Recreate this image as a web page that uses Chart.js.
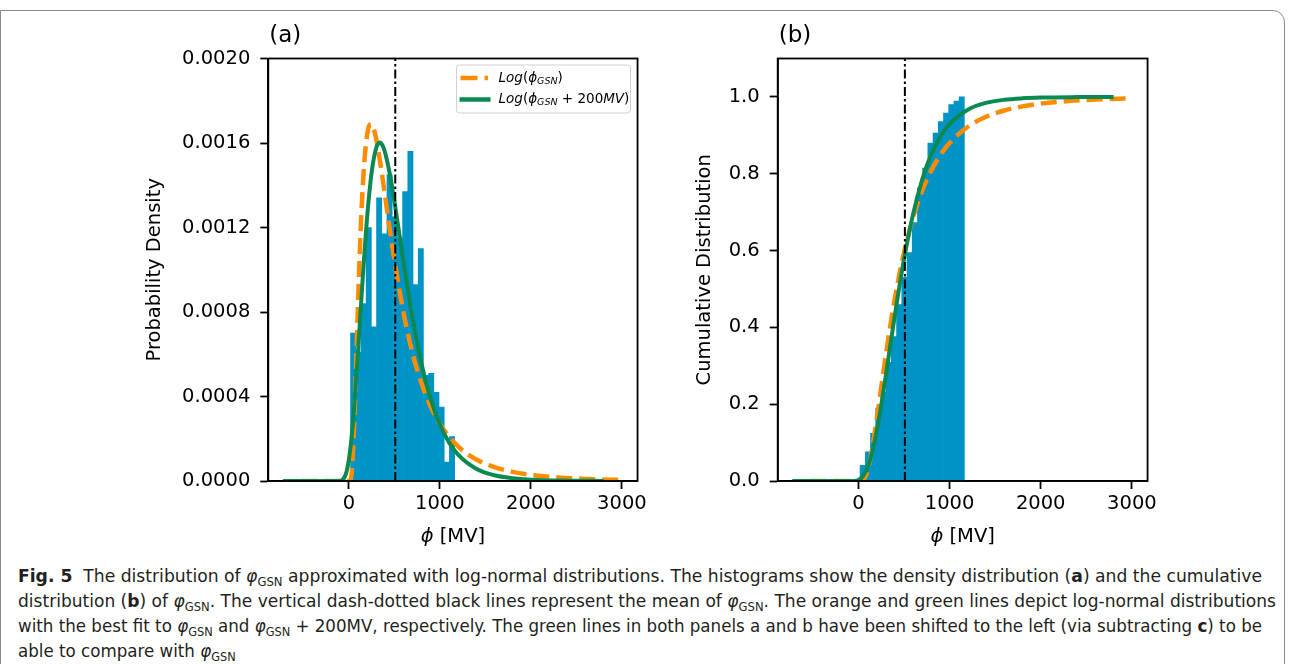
<!DOCTYPE html>
<html><head><meta charset="utf-8">
<script src="https://cdn.jsdelivr.net/npm/chart.js@4.4.1/dist/chart.umd.min.js"></script>
<style>
html,body{margin:0;padding:0;background:#fff;width:1294px;height:664px;overflow:hidden;position:relative;}
#frame{position:absolute;left:0;top:10px;width:1285px;height:700px;border:1.5px solid #8a8a8a;border-top-right-radius:12px;box-sizing:border-box;}
.cv{position:absolute;top:0;height:560px;}
#wa{left:140px;width:510px;}
#wb{left:690px;width:470px;}
#cap{position:absolute;left:18px;top:563px;width:1270px;height:100px;font-family:"Liberation Sans Narrow","DejaVu Sans Condensed","Roboto Condensed","Liberation Sans",sans-serif;font-size:18px;color:#231f20;}
.ln{position:absolute;left:0;white-space:nowrap;transform-origin:0 50%;line-height:26px;}
sub{font-size:68%;vertical-align:-0.32em;line-height:0;}
</style></head><body>
<div id="frame"></div>
<div class="cv" id="wa"><canvas id="ca"></canvas></div>
<div class="cv" id="wb"><canvas id="cb"></canvas></div>
<div id="cap">
<div class="ln" data-w="1244" style="top:0px"><b>Fig. 5</b>&nbsp; The distribution of <i>φ</i><sub>GSN</sub> approximated with log-normal distributions. The histograms show the density distribution (<b>a</b>) and the cumulative</div>
<div class="ln" data-w="1258" style="top:25px">distribution (<b>b</b>) of <i>φ</i><sub>GSN</sub>. The vertical dash-dotted black lines represent the mean of <i>φ</i><sub>GSN</sub>. The orange and green lines depict log-normal distributions</div>
<div class="ln" data-w="1244" style="top:50px">with the best fit to <i>φ</i><sub>GSN</sub> and <i>φ</i><sub>GSN</sub> + 200MV, respectively. The green lines in both panels a and b have been shifted to the left (via subtracting <b>c</b>) to be</div>
<div class="ln" style="top:75px">able to compare with <i>φ</i><sub>GSN</sub></div>
</div>
<script>
// ---------------- data ----------------
const binCenters = [47.0, 104.2, 161.4, 218.6, 275.8, 333.0, 390.2, 447.4, 504.6, 561.8, 619.0, 676.2, 733.4, 790.6, 847.8, 905.0, 962.2, 1019.4, 1076.6, 1133.8];
const densityValues = [0.00070, 0.00061, 0.00084, 0.00120, 0.00073, 0.00134, 0.00117, 0.00145, 0.00125, 0.00115, 0.00137, 0.00156, 0.00093, 0.00110, 0.00050, 0.00051, 0.00042, 0.00035, 0.00009, 0.00021];
const cumulativeValues = [0.041, 0.076, 0.124, 0.190, 0.232, 0.309, 0.376, 0.459, 0.530, 0.595, 0.673, 0.763, 0.815, 0.880, 0.906, 0.936, 0.958, 0.980, 0.989, 1.000];

const orangePdfX = [-525, 0, 20, 40, 60, 80, 100, 125, 150, 175, 200, 225, 250, 275, 300, 350, 400, 450, 500, 600, 700, 800, 900, 1000, 1200, 1400, 1600, 1800, 2000, 2300, 2600, 2990];
const orangePdf = [0, 0, 0.000006, 0.000089, 0.000288, 0.000554, 0.000831, 0.001136, 0.001373, 0.001537, 0.001636, 0.001683, 0.001689, 0.001666, 0.001621, 0.001493, 0.001343, 0.001191, 0.001047, 0.000798, 0.000605, 0.000460, 0.000351, 0.000270, 0.000164, 0.000102, 0.000066, 0.000043, 0.000029, 0.000017, 0.000010, 0.000005];

const greenPdfX = [-725, -150, -100, -50, -25, 0, 25, 50, 100, 150, 200, 250, 300, 340, 375, 400, 450, 500, 550, 600, 700, 800, 900, 1000, 1100, 1200, 1400, 1600, 1800, 2000, 2400, 2800];
const greenPdf = [0, 0, 0.0000005, 0.000016, 0.000045, 0.000100, 0.000186, 0.000303, 0.000607, 0.000944, 0.001244, 0.001459, 0.001575, 0.001602, 0.001584, 0.001552, 0.001454, 0.001326, 0.001183, 0.001038, 0.000770, 0.000552, 0.000387, 0.000267, 0.000183, 0.000125, 0.000058, 0.000027, 0.000013, 0.000006, 0.0000016, 0.0000004];

const orangeCdfX = [-525, 0, 25, 50, 75, 100, 125, 150, 175, 200, 250, 300, 350, 400, 450, 500, 600, 700, 800, 900, 1000, 1200, 1400, 1600, 1800, 2000, 2300, 2600, 2990];
const orangeCdf = [0, 0, 0.00007, 0.0021, 0.0101, 0.0266, 0.0513, 0.0828, 0.1193, 0.1591, 0.2429, 0.3260, 0.4040, 0.4750, 0.5383, 0.5943, 0.6859, 0.7557, 0.8086, 0.8489, 0.8798, 0.9222, 0.9482, 0.9647, 0.9754, 0.9825, 0.9892, 0.9931, 0.9960];

const greenCdfX = [-725, -150, -100, -50, 0, 50, 100, 150, 200, 250, 300, 350, 400, 450, 500, 600, 700, 800, 900, 1000, 1200, 1400, 1600, 1800, 2000, 2400, 2800];
const greenCdf = [0, 0, 0.000005, 0.00027, 0.00275, 0.0123, 0.0348, 0.0736, 0.1286, 0.1965, 0.2728, 0.3525, 0.4315, 0.5069, 0.5765, 0.6947, 0.7848, 0.8504, 0.8969, 0.9292, 0.9668, 0.9843, 0.9925, 0.9963, 0.9982, 0.9995, 0.9999];

const meanPhi = 510;
const xTicks = [0, 1000, 2000, 3000];
const yTicksA = [0, 0.0004, 0.0008, 0.0012, 0.0016, 0.0020];
const yTicksB = [0, 0.2, 0.4, 0.6, 0.8, 1.0];

// ---------------- styling ----------------
const BLUE = '#0093c6', ORANGE = '#ff8c00', GREEN = '#0a8a50';
const FONT = 'DejaVu Sans';
const TICK_SIZE = 19.5;

function pts(xs, ys){ return xs.map((x,i)=>({x:x, y:ys[i]})); }

function drawRich(ctx, x, y, segs, align){
  let w = 0;
  segs.forEach(s=>{ ctx.font = s.f; w += ctx.measureText(s.t).width; });
  let cx = align === 'center' ? x - w/2 : x;
  ctx.textBaseline = 'middle'; ctx.textAlign = 'left';
  segs.forEach(s=>{ ctx.font = s.f; ctx.fillText(s.t, cx, y + (s.dy||0)); cx += ctx.measureText(s.t).width; });
}

function makePanel(canvasId, opts){
  const framePlugin = {
    id:'frame'+canvasId,
    afterDatasetsDraw(chart){
      const {ctx, chartArea:a} = chart;
      ctx.save();
      ctx.strokeStyle = '#000'; ctx.lineWidth = 1.8;
      ctx.strokeRect(a.left, a.top, a.right-a.left, a.bottom-a.top);
      ctx.restore();
    },
    afterDraw(chart){
      const {ctx, chartArea:a} = chart;
      ctx.save();
      ctx.fillStyle = '#000';
      ctx.font = '23px ' + FONT; ctx.textBaseline = 'middle'; ctx.textAlign = 'left';
      ctx.fillText(opts.panel, a.left + 1, 36);
      drawRich(ctx, (a.left+a.right)/2, 537, [
        {t:'ϕ', f:'italic '+TICK_SIZE+'px '+FONT},
        {t:' [MV]', f:TICK_SIZE+'px '+FONT}
      ], 'center');
      if (opts.legend) {
        const bw = 174, bh = 48;
        const bx = a.right - 7 - bw, by = a.top + 6.5;
        ctx.beginPath();
        if (ctx.roundRect) ctx.roundRect(bx, by, bw, bh, 3); else ctx.rect(bx, by, bw, bh);
        ctx.fillStyle = 'rgba(255,255,255,0.85)'; ctx.fill();
        ctx.strokeStyle = '#d0d0d0'; ctx.lineWidth = 1; ctx.stroke();
        const it = 'italic 13.5px '+FONT, rm = '13.5px '+FONT, sub = 'italic 9.5px '+FONT;
        // orange entry
        ctx.save();
        ctx.strokeStyle = ORANGE; ctx.lineWidth = 4.5; ctx.setLineDash([17,7]);
        ctx.beginPath(); ctx.moveTo(bx+4, by+13); ctx.lineTo(bx+31.5, by+13); ctx.stroke();
        ctx.restore();
        ctx.fillStyle = '#000';
        drawRich(ctx, bx+42, by+13, [
          {t:'Log', f:it},{t:'(', f:rm},{t:'ϕ', f:it},{t:'GSN', f:sub, dy:3.5},{t:')', f:rm}
        ]);
        // green entry
        ctx.save();
        ctx.strokeStyle = GREEN; ctx.lineWidth = 4.5;
        ctx.beginPath(); ctx.moveTo(bx+3, by+34.5); ctx.lineTo(bx+34, by+34.5); ctx.stroke();
        ctx.restore();
        ctx.fillStyle = '#000';
        drawRich(ctx, bx+42, by+34.5, [
          {t:'Log', f:it},{t:'(', f:rm},{t:'ϕ', f:it},{t:'GSN', f:sub, dy:3.5},{t:' + 200', f:rm},{t:'MV', f:it},{t:')', f:rm}
        ]);
      }
      ctx.restore();
    }
  };

  return new Chart(document.getElementById(canvasId), {
    type:'line',
    data:{ datasets:[
      { type:'line', data: pts([meanPhi, meanPhi], [0, opts.yMax]), borderColor:'#000', borderWidth:2,
        borderDash:[9,3,2.5,3], pointRadius:0, order:0 },
      { type:'line', data: opts.green, borderColor:GREEN, borderWidth:4, pointRadius:0,
        cubicInterpolationMode:'monotone', order:1 },
      { type:'line', data: opts.orange, borderColor:ORANGE, borderWidth:4.5, borderDash:[16,7], pointRadius:0,
        cubicInterpolationMode:'monotone', order:2 },
      { type:'bar', data: opts.bars, backgroundColor:BLUE, borderWidth:0, barPercentage:1, categoryPercentage:1,
        grouped:false, order:3 }
    ]},
    options:{
      responsive:true, maintainAspectRatio:false, animation:false, events:[],
      layout:{ padding:{ top:58.5, right:opts.padRight, left:0, bottom:0 } },
      plugins:{ legend:{display:false}, tooltip:{enabled:false}, title:{display:false} },
      scales:{
        x:{ type:'linear', min:-885, max:3172, offset:false,
            grid:{ display:true, drawOnChartArea:false, drawTicks:true, tickLength:8, tickWidth:1.8, tickColor:'#000', offset:false },
            border:{ display:true, width:1.8, color:'#000' },
            ticks:{ color:'#000', font:{family:FONT, size:TICK_SIZE}, padding:3, maxRotation:0, autoSkip:false,
                    callback:(v)=>String(v) },
            afterBuildTicks:(s)=>{ s.ticks = xTicks.map(v=>({value:v})); },
            afterFit:(s)=>{ s.height = 79; },
            title:{ display:false } },
        y:{ type:'linear', min:0, max:opts.yMax,
            grid:{ display:true, drawOnChartArea:false, drawTicks:true, tickLength:8, tickWidth:1.8, tickColor:'#000' },
            border:{ display:true, width:1.8, color:'#000' },
            ticks:{ color:'#000', font:{family:FONT, size:TICK_SIZE}, padding:10, autoSkip:false,
                    callback:(v)=>v.toFixed(opts.decimals) },
            afterBuildTicks:(s)=>{ s.ticks = opts.yTicks.map(v=>({value:v})); },
            afterFit:(s)=>{ s.width = opts.yWidth; },
            title:{ display:true, text:opts.yTitle, color:'#000', font:{family:FONT, size:TICK_SIZE}, padding:{top:3, bottom:0} } }
      }
    },
    plugins:[framePlugin]
  });
}

makePanel('ca', {
  panel:'(a)', yMax:0.0020, yTicks:yTicksA, decimals:4, yTitle:'Probability Density', yWidth:128.3, padRight:7,
  bars: pts(binCenters, densityValues), orange: pts(orangePdfX, orangePdf), green: pts(greenPdfX, greenPdf), legend:true
});
makePanel('cb', {
  panel:'(b)', yMax:1.1, yTicks:yTicksB, decimals:1, yTitle:'Cumulative Distribution', yWidth:87.7, padRight:7.3,
  bars: pts(binCenters, cumulativeValues), orange: pts(orangeCdfX, orangeCdf), green: pts(greenCdfX, greenCdf), legend:false
});

// caption line fitting
function fitCaption(){
  let lastK = 1;
  document.querySelectorAll('#cap .ln').forEach(el=>{
    el.style.transform = 'none';
    const w = el.getBoundingClientRect().width;
    const target = parseFloat(el.dataset.w || '0');
    const k = target ? target / w : lastK;
    lastK = k;
    el.style.transform = 'scaleX(' + k + ')';
  });
}
fitCaption();
if (document.fonts && document.fonts.ready) document.fonts.ready.then(fitCaption);
</script>
</body></html>
